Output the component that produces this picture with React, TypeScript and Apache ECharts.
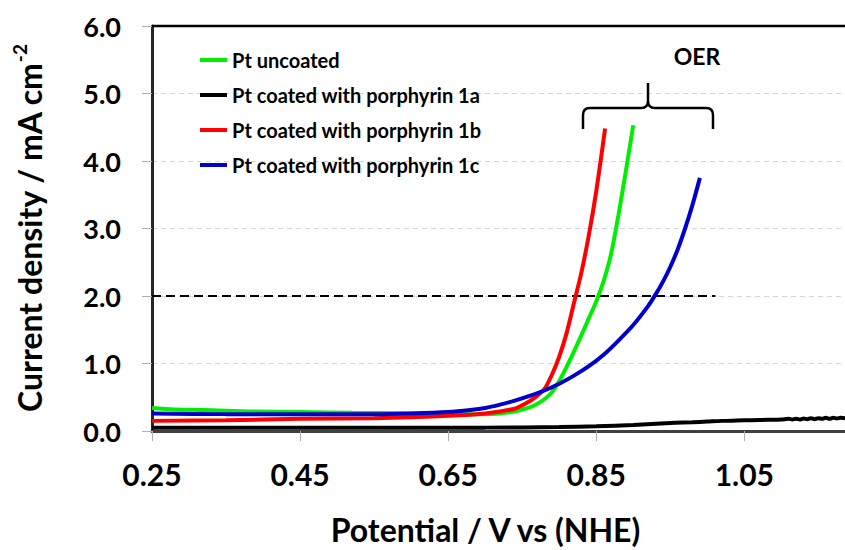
import React, { useEffect, useRef } from "react";
import * as echarts from "echarts";

// ---- data ----
const seriesNames = [
  "Pt uncoated",
  "Pt coated with porphyrin 1a",
  "Pt coated with porphyrin 1b",
  "Pt coated with porphyrin 1c",
];
const seriesColors = ["#00ee00", "#000000", "#ff0000", "#0000cc"];

const xTickLabels = [0.25, 0.45, 0.65, 0.85, 1.05];
const yTickLabels = [0, 1, 2, 3, 4, 5, 6];

const ptUncoated: [number, number][] = [
  [0.25, 0.34], [0.28, 0.32], [0.32, 0.31], [0.38, 0.29], [0.45, 0.28],
  [0.52, 0.27], [0.6, 0.26], [0.65, 0.25], [0.7, 0.25], [0.72, 0.26],
  [0.74, 0.29], [0.76, 0.35], [0.77, 0.4], [0.78, 0.47], [0.79, 0.57],
  [0.8, 0.74], [0.81, 0.95], [0.82, 1.18], [0.83, 1.42], [0.84, 1.67],
  [0.85, 1.92], [0.86, 2.22], [0.87, 2.62], [0.88, 3.2], [0.89, 3.85],
  [0.9, 4.53],
];

const porphyrin1a: [number, number][] = [
  [0.25, 0.05], [0.4, 0.05], [0.6, 0.05], [0.7, 0.05], [0.8, 0.06],
  [0.85, 0.07], [0.9, 0.09], [0.95, 0.12], [0.98, 0.13], [1.0, 0.14],
  [1.02, 0.15], [1.04, 0.155], [1.06, 0.16], [1.08, 0.165], [1.1, 0.17],
  [1.11, 0.18], [1.115, 0.17], [1.12, 0.18], [1.125, 0.17], [1.13, 0.185],
  [1.135, 0.175], [1.14, 0.19], [1.145, 0.175], [1.15, 0.19], [1.155, 0.18],
  [1.16, 0.195], [1.165, 0.18], [1.17, 0.195], [1.175, 0.185], [1.18, 0.195],
  [1.186, 0.19],
];

const porphyrin1b: [number, number][] = [
  [0.25, 0.15], [0.35, 0.16], [0.45, 0.18], [0.55, 0.19], [0.62, 0.21],
  [0.68, 0.24], [0.7, 0.26], [0.72, 0.29], [0.74, 0.33], [0.75, 0.38],
  [0.76, 0.44], [0.77, 0.52], [0.78, 0.62], [0.79, 0.83], [0.8, 1.1],
  [0.81, 1.45], [0.82, 1.9], [0.83, 2.35], [0.84, 2.9], [0.85, 3.55],
  [0.862, 4.48],
];

const porphyrin1c: [number, number][] = [
  [0.25, 0.26], [0.35, 0.25], [0.45, 0.25], [0.55, 0.25], [0.6, 0.26],
  [0.65, 0.28], [0.68, 0.31], [0.7, 0.34], [0.72, 0.39], [0.74, 0.45],
  [0.76, 0.52], [0.78, 0.6], [0.8, 0.7], [0.82, 0.82], [0.84, 0.96],
  [0.86, 1.13], [0.88, 1.34], [0.9, 1.57], [0.92, 1.85], [0.93, 2.02],
  [0.94, 2.21], [0.95, 2.43], [0.96, 2.69], [0.97, 3.0], [0.98, 3.35],
  [0.99, 3.75],
];

const referenceLevel = 2.0;
const referenceRange = [0.25, 1.011];
const annotationText = "OER";

const FONT = "Lato";

export default function App() {
  const ref = useRef<HTMLDivElement>(null);

  useEffect(() => {
    document.body.style.margin = "0";
    if (!ref.current) return;
    const chart = echarts.init(ref.current, null, { renderer: "svg" });

    echarts.graphic.registerShape(
      "brace",
      echarts.graphic.extendPath(
        "M0,46 L0,32 Q0,25 7,25 L58,25 Q65,25 65,18 L65,0 M65,18 Q65,25 72,25 L123,25 Q130,25 130,32 L130,46",
        {}
      )
    );

    const allData = [ptUncoated, porphyrin1a, porphyrin1b, porphyrin1c];

    const series: any[] = allData.map((d, i) => ({
      name: seriesNames[i],
      type: "line",
      data: d,
      showSymbol: false,
      symbol: "none",
      smooth: 0.3,
      lineStyle: { color: seriesColors[i], width: 4 },
      itemStyle: { color: seriesColors[i] },
      z: 3 + i,
    }));

    series[1].markLine = {
      silent: true,
      symbol: "none",
      label: { show: false },
      lineStyle: { color: "#000", width: 2, type: [9, 5] },
      data: [
        [
          { coord: [referenceRange[0], referenceLevel] },
          { coord: [referenceRange[1], referenceLevel] },
        ],
      ],
    };

    chart.setOption({
      animation: false,
      textStyle: { fontFamily: FONT },
      grid: { left: 152, top: 26, right: 0, bottom: 113, containLabel: false },
      legend: {
        orient: "vertical",
        left: 195,
        top: 44,
        itemWidth: 27,
        itemHeight: 4,
        itemGap: 13,
        icon: "rect",
        data: seriesNames,
        textStyle: {
          fontFamily: FONT,
          fontWeight: "bold",
          fontSize: 20,
          lineHeight: 22,
          color: "#000",
        },
      },
      xAxis: {
        type: "value",
        min: 0.25,
        max: 1.186,
        name: "Potential / V vs (NHE)",
        nameLocation: "middle",
        nameGap: 82,
        nameTextStyle: {
          fontFamily: FONT,
          fontWeight: "bold",
          fontSize: 32,
          color: "#000",
          padding: [0, 26, 0, 0],
        },
        axisLine: { show: true, lineStyle: { color: "#404040", width: 3 } },
        axisTick: {
          show: true,
          length: 10,
          customValues: xTickLabels,
          lineStyle: { color: "#b0b0b0", width: 1 },
        },
        axisLabel: {
          customValues: xTickLabels,
          formatter: (v: number) => v.toFixed(2),
          fontFamily: FONT,
          fontWeight: "bold",
          fontSize: 30,
          color: "#000",
          margin: 28,
        },
        splitLine: { show: false },
      },
      yAxis: {
        type: "value",
        min: 0,
        max: 6,
        interval: 1,
        name: "{a|Current density / mA cm}{b|-2}",
        nameLocation: "middle",
        nameGap: 104,
        nameTextStyle: {
          rich: {
            a: {
              fontFamily: FONT,
              fontWeight: "bold",
              fontSize: 32,
              color: "#000",
              lineHeight: 38,
            },
            b: {
              fontFamily: FONT,
              fontWeight: "bold",
              fontSize: 19,
              color: "#000",
              verticalAlign: "top",
              lineHeight: 38,
              padding: [0, 0, 16, 0],
            },
          },
        },
        axisLine: { show: true, lineStyle: { color: "#262626", width: 3 } },
        axisTick: {
          show: true,
          length: 10,
          lineStyle: { color: "#b0b0b0", width: 1 },
        },
        axisLabel: {
          formatter: (v: number) => (yTickLabels.includes(v) ? v.toFixed(1) : ""),
          fontFamily: FONT,
          fontWeight: "bold",
          fontSize: 27,
          color: "#000",
          margin: 31,
        },
        splitLine: {
          show: true,
          lineStyle: { color: "#c6d9f1", width: 1, type: [5, 4] },
        },
      },
      graphic: [
        {
          type: "line",
          shape: { x1: 152, y1: 26, x2: 845, y2: 26 },
          style: { stroke: "#000", lineWidth: 2.5 },
          z: 10,
        },
        {
          type: "brace",
          x: 583,
          y: 83,
          style: { stroke: "#000", lineWidth: 2.5, fill: "none" },
          z: 10,
        },
        {
          type: "text",
          x: 697,
          y: 56,
          style: {
            text: annotationText,
            fontFamily: FONT,
            fontWeight: "bold",
            fontSize: 23,
            fill: "#000",
            textAlign: "center",
            textVerticalAlign: "middle",
          },
          z: 10,
        },
      ],
      series,
    });

    return () => {
      chart.dispose();
    };
  }, []);

  return <div ref={ref} style={{ width: 845, height: 550 }} />;
}
